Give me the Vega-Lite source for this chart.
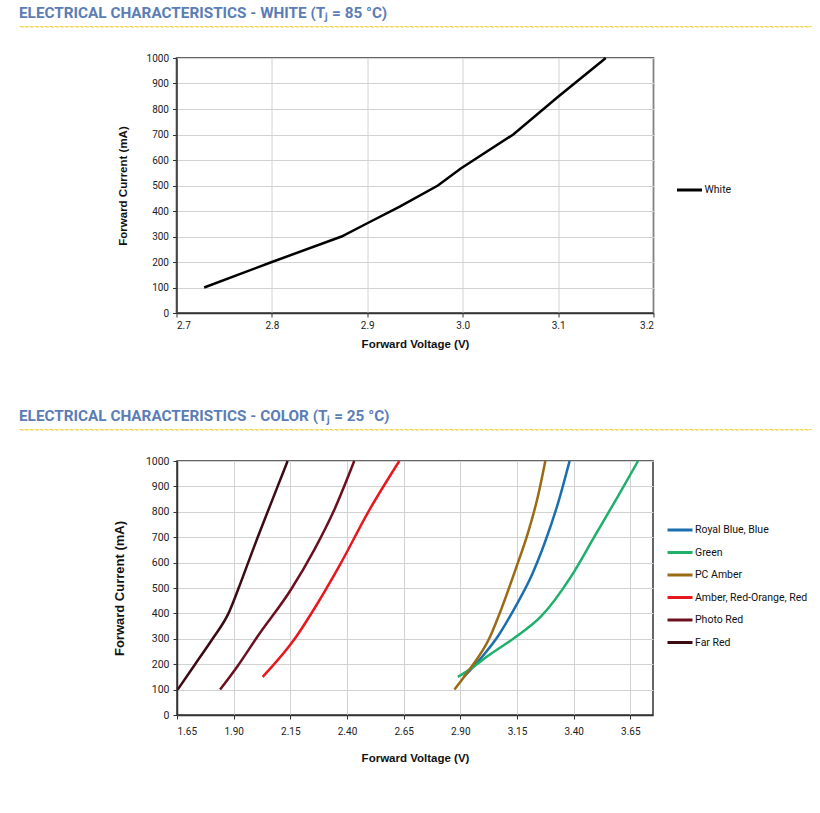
{
  "$schema": "https://vega.github.io/schema/vega-lite/v6.json",
  "autosize": {"type": "pad"},
  "padding": {"left": 18, "top": 5, "right": 0, "bottom": 0},
  "background": "white",
  "spacing": 31,
  "center": true,
  "bounds": "flush",
  "resolve": {"scale": {"color": "independent"}, "legend": {"color": "independent"}},
  "config": {
    "view": {"stroke": "#333333", "strokeWidth": 1.5},
    "axis": {
      "labelFont": "Roboto", "labelFontSize": 10, "labelColor": "#222222",
      "titleFont": "Liberation Sans", "titleFontWeight": "bold", "titleColor": "#111111",
      "gridColor": "#d2d2d2", "gridWidth": 1,
      "domainColor": "#333333", "domainWidth": 1.5,
      "tickColor": "#333333", "tickSize": 4, "tickWidth": 1
    },
    "legend": {
      "symbolType": "stroke", "symbolStrokeWidth": 3, "symbolSize": 625,
      "labelFont": "Roboto", "labelFontSize": 10.5, "labelColor": "#111111",
      "labelOffset": 1, "rowPadding": 2.5, "padding": 0
    },
    "title": {
      "font": "Roboto", "fontSize": 15.3, "fontWeight": "bold", "color": "#5b7db5",
      "anchor": "start", "frame": "group", "offset": 5
    }
  },
  "datasets": {
    "white": [
      {"series": "White", "v": 2.729, "i": 100},
      {"series": "White", "v": 2.8, "i": 200},
      {"series": "White", "v": 2.873, "i": 300},
      {"series": "White", "v": 2.9, "i": 352},
      {"series": "White", "v": 2.934, "i": 417},
      {"series": "White", "v": 2.974, "i": 500},
      {"series": "White", "v": 2.998, "i": 567},
      {"series": "White", "v": 3.053, "i": 700},
      {"series": "White", "v": 3.1, "i": 848},
      {"series": "White", "v": 3.15, "i": 1000}
    ],
    "color": [
      {"series": "Royal Blue, Blue", "v": 2.915, "i": 150},
      {"series": "Royal Blue, Blue", "v": 2.992, "i": 225},
      {"series": "Royal Blue, Blue", "v": 3.066, "i": 310},
      {"series": "Royal Blue, Blue", "v": 3.139, "i": 420},
      {"series": "Royal Blue, Blue", "v": 3.213, "i": 546},
      {"series": "Royal Blue, Blue", "v": 3.272, "i": 677},
      {"series": "Royal Blue, Blue", "v": 3.331, "i": 834},
      {"series": "Royal Blue, Blue", "v": 3.382, "i": 1000},
      {"series": "Green", "v": 2.889, "i": 150},
      {"series": "Green", "v": 2.962, "i": 192},
      {"series": "Green", "v": 3.021, "i": 232},
      {"series": "Green", "v": 3.139, "i": 304},
      {"series": "Green", "v": 3.257, "i": 389},
      {"series": "Green", "v": 3.389, "i": 546},
      {"series": "Green", "v": 3.492, "i": 703},
      {"series": "Green", "v": 3.596, "i": 862},
      {"series": "Green", "v": 3.684, "i": 1000},
      {"series": "PC Amber", "v": 2.874, "i": 100},
      {"series": "PC Amber", "v": 2.933, "i": 170},
      {"series": "PC Amber", "v": 3.029, "i": 304},
      {"series": "PC Amber", "v": 3.08, "i": 415},
      {"series": "PC Amber", "v": 3.146, "i": 579},
      {"series": "PC Amber", "v": 3.198, "i": 716},
      {"series": "PC Amber", "v": 3.242, "i": 860},
      {"series": "PC Amber", "v": 3.275, "i": 1000},
      {"series": "Amber, Red-Orange, Red", "v": 2.028, "i": 150},
      {"series": "Amber, Red-Orange, Red", "v": 2.167, "i": 297},
      {"series": "Amber, Red-Orange, Red", "v": 2.271, "i": 441},
      {"series": "Amber, Red-Orange, Red", "v": 2.373, "i": 598},
      {"series": "Amber, Red-Orange, Red", "v": 2.491, "i": 795},
      {"series": "Amber, Red-Orange, Red", "v": 2.631, "i": 1000},
      {"series": "Photo Red", "v": 1.84, "i": 100},
      {"series": "Photo Red", "v": 1.917, "i": 192},
      {"series": "Photo Red", "v": 2.006, "i": 310},
      {"series": "Photo Red", "v": 2.153, "i": 494},
      {"series": "Photo Red", "v": 2.256, "i": 651},
      {"series": "Photo Red", "v": 2.344, "i": 808},
      {"series": "Photo Red", "v": 2.432, "i": 1000},
      {"series": "Far Red", "v": 1.653, "i": 100},
      {"series": "Far Red", "v": 1.73, "i": 200},
      {"series": "Far Red", "v": 1.807, "i": 300},
      {"series": "Far Red", "v": 1.877, "i": 400},
      {"series": "Far Red", "v": 1.922, "i": 500},
      {"series": "Far Red", "v": 1.964, "i": 600},
      {"series": "Far Red", "v": 2.006, "i": 700},
      {"series": "Far Red", "v": 2.05, "i": 800},
      {"series": "Far Red", "v": 2.094, "i": 900},
      {"series": "Far Red", "v": 2.138, "i": 1000}
    ]
  },
  "vconcat": [
    {
      "width": 792, "height": 0.5,
      "title": {"text": "ELECTRICAL CHARACTERISTICS - WHITE (Tⱼ = 85 °C)"},
      "view": {"stroke": "#f0d24a", "strokeWidth": 1, "strokeDash": [3, 2]},
      "data": {"values": []},
      "mark": "point"
    },
    {
      "width": 477, "height": 255,
      "data": {"name": "white"},
      "mark": {"type": "line", "strokeWidth": 2.5},
      "encoding": {
        "x": {"field": "v", "type": "quantitative",
          "scale": {"domain": [2.7, 3.2], "nice": false, "zero": false},
          "axis": {"title": "Forward Voltage (V)", "values": [2.7, 2.8, 2.9, 3.0, 3.1, 3.2], "format": ".1f",
            "labelPadding": 3, "titlePadding": 8, "titleFontSize": 11.5}},
        "y": {"field": "i", "type": "quantitative",
          "scale": {"domain": [0, 1000], "nice": false},
          "axis": {"title": "Forward Current (mA)", "values": [0, 100, 200, 300, 400, 500, 600, 700, 800, 900, 1000], "format": "d",
            "labelPadding": 4, "titlePadding": 18, "titleFontSize": 11.5}},
        "color": {"field": "series", "type": "nominal",
          "scale": {"domain": ["White"], "range": ["#000000"]},
          "legend": {"title": null, "orient": "none", "legendX": 499, "legendY": 118}}
      }
    },
    {
      "width": 792, "height": 54,
      "view": {"stroke": null},
      "data": {"values": []},
      "mark": "point"
    },
    {
      "width": 792, "height": 0.5,
      "title": {"text": "ELECTRICAL CHARACTERISTICS - COLOR (Tⱼ = 25 °C)"},
      "view": {"stroke": "#f0d24a", "strokeWidth": 1, "strokeDash": [3, 2]},
      "data": {"values": []},
      "mark": "point"
    },
    {
      "width": 476, "height": 254,
      "data": {"name": "color"},
      "mark": {"type": "line", "strokeWidth": 2.5, "interpolate": "monotone"},
      "encoding": {
        "x": {"field": "v", "type": "quantitative",
          "scale": {"domain": [1.65, 3.75], "nice": false, "zero": false},
          "axis": {"title": "Forward Voltage (V)", "values": [1.65, 1.9, 2.15, 2.4, 2.65, 2.9, 3.15, 3.4, 3.65], "format": ".2f",
            "labelPadding": 7, "titlePadding": 16, "titleFontSize": 11.5}},
        "y": {"field": "i", "type": "quantitative",
          "scale": {"domain": [0, 1000], "nice": false},
          "axis": {"title": "Forward Current (mA)", "values": [0, 100, 200, 300, 400, 500, 600, 700, 800, 900, 1000], "format": "d",
            "labelPadding": 4, "titlePadding": 19, "titleFontSize": 13, "labelFontSize": 10.5}},
        "color": {"field": "series", "type": "nominal",
          "scale": {"domain": ["Royal Blue, Blue", "Green", "PC Amber", "Amber, Red-Orange, Red", "Photo Red", "Far Red"],
            "range": ["#1c6fae", "#1fb06c", "#9a6b14", "#e8171d", "#6c1020", "#3d0b14"]},
          "legend": {"title": null, "orient": "none", "legendX": 489, "legendY": 55}}
      }
    }
  ]
}
